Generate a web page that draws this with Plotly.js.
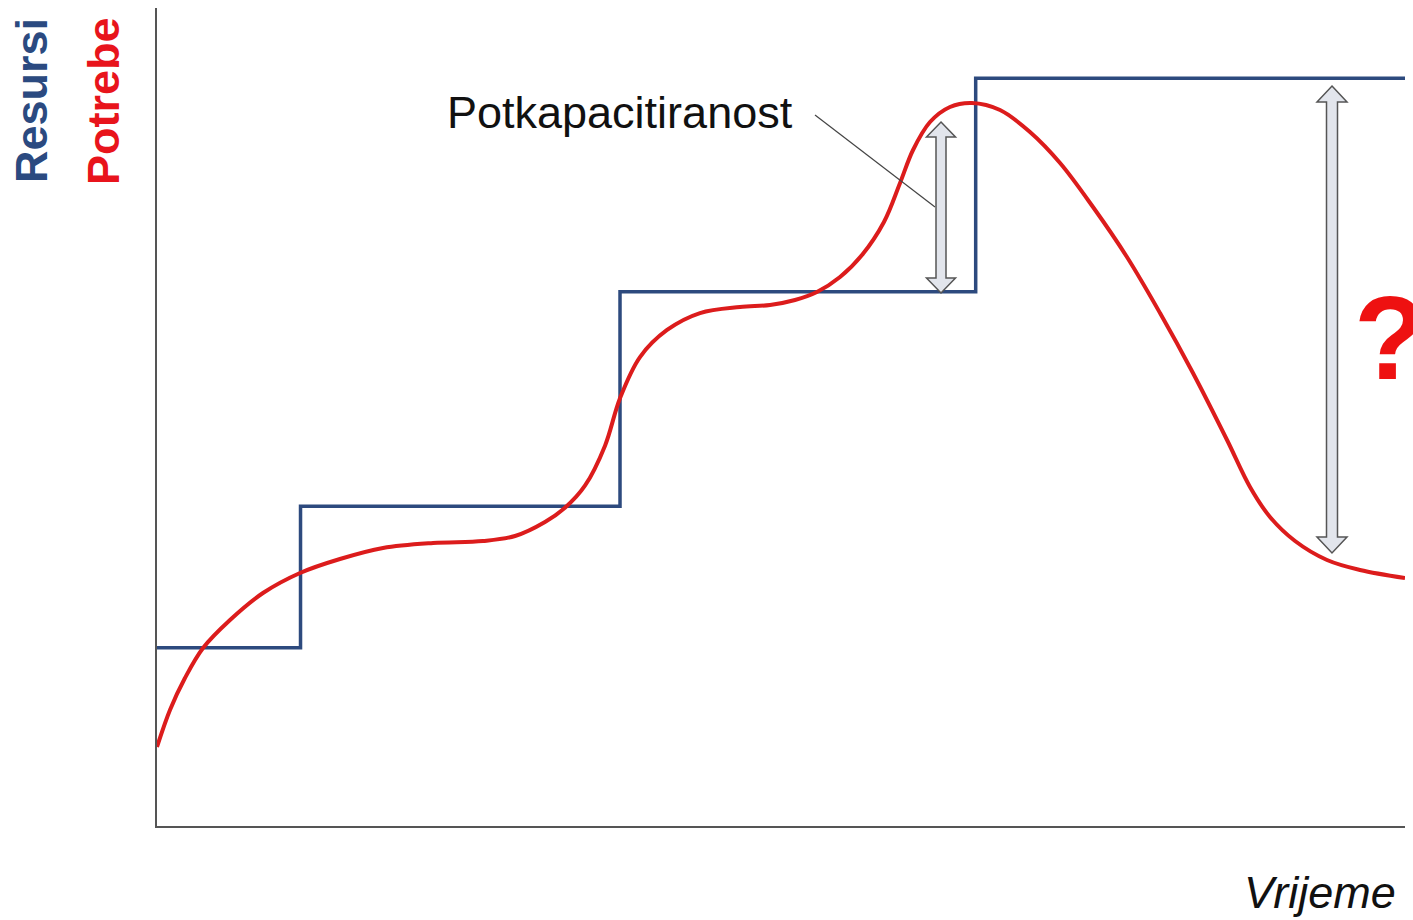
<!DOCTYPE html>
<html>
<head>
<meta charset="utf-8">
<script src="https://cdn.plot.ly/plotly-3.0.1.min.js"></script>
<style>html,body{margin:0;padding:0;background:#fff;}#chart{width:1413px;height:920px;}</style>
</head>
<body>
<div id="chart"></div>
<script>
// Resources (Resursi) – step function
var resourceTime  = [0, 11.5, 37.1, 65.6, 100];
var resourceLevel = [21.8, 39.1, 65.3, 91.4, 91.4];

// Needs (Potrebe) – smooth curve
var demandTime  = [0, 1.04, 2.24, 3.69, 5.85, 8.49, 11.46, 14.66, 18.11, 22.12, 26.12, 28.69, 31.09, 32.69, 34.29, 35.9, 37.1, 38.7, 40.87, 43.51, 46.71, 49.12, 51.12, 52.88, 54.73, 56.49, 58.25, 59.54, 60.58, 61.94, 63.54, 65.3, 67.55, 69.95, 72.36, 75.0, 77.72, 80.37, 83.01, 85.74, 87.58, 89.18, 91.19, 93.75, 96.39, 100];
var demandLevel = [9.66, 14.18, 18.09, 21.76, 25.18, 28.48, 30.93, 32.64, 33.99, 34.6, 34.84, 35.45, 37.16, 38.9, 41.6, 46.5, 52.3, 57.33, 60.64, 62.71, 63.45, 63.69, 64.3, 65.28, 67.11, 69.8, 73.84, 78.61, 82.64, 86.06, 87.9, 88.39, 87.53, 84.84, 81.05, 75.67, 69.56, 62.71, 55.38, 47.19, 41.44, 37.78, 34.84, 32.52, 31.3, 30.32];

// Labels
var yLabelResources = 'Resursi';
var yLabelNeeds = 'Potrebe';
var xLabel = 'Vrijeme';
var calloutText = 'Potkapacitiranost';
var questionText = '?';

// layout geometry
var W = 1413, H = 920, ML = 157, MR = 8, MT = 8, MB = 94;
var PW = W - ML - MR, PH = H - MT - MB;
function X(px){ return (px - ML) / PW * 100; }
function Y(py){ return (H - MB - py) / PH * 100; }
function dblArrow(cx, yTop, yBot, shaftW, headW, headH){
  var p = [
    [cx, yTop], [cx + headW/2, yTop + headH], [cx + shaftW/2, yTop + headH],
    [cx + shaftW/2, yBot - headH], [cx + headW/2, yBot - headH], [cx, yBot],
    [cx - headW/2, yBot - headH], [cx - shaftW/2, yBot - headH],
    [cx - shaftW/2, yTop + headH], [cx - headW/2, yTop + headH]
  ];
  return 'M' + p.map(function(q){ return X(q[0]).toFixed(3) + ',' + Y(q[1]).toFixed(3); }).join(' L') + ' Z';
}

var traces = [
  {x: resourceTime, y: resourceLevel, mode: 'lines', line: {shape: 'hv', color: '#2d4a7e', width: 3.5}, hoverinfo: 'skip'},
  {x: demandTime, y: demandLevel, mode: 'lines', line: {shape: 'spline', smoothing: 1, color: '#dc1c1c', width: 4}, hoverinfo: 'skip'}
];

var arrowStyle = {fillcolor: '#e2e5ec', line: {color: '#555555', width: 1.5}};
var layout = {
  width: W, height: H,
  margin: {l: ML, r: MR, t: MT, b: MB, pad: 0},
  paper_bgcolor: '#ffffff', plot_bgcolor: '#ffffff',
  showlegend: false,
  xaxis: {range: [0, 100], showgrid: false, zeroline: false, showticklabels: false, ticks: '', showline: true, linecolor: '#555555', linewidth: 2, fixedrange: true},
  yaxis: {range: [0, 100], showgrid: false, zeroline: false, showticklabels: false, ticks: '', showline: true, linecolor: '#555555', linewidth: 2, fixedrange: true},
  shapes: [
    {type: 'line', xref: 'x', yref: 'y', x0: X(815), y0: Y(115), x1: X(935), y1: Y(207), line: {color: '#444444', width: 1.2}},
    Object.assign({type: 'path', xref: 'x', yref: 'y', path: dblArrow(941, 122, 293, 10, 29, 15)}, arrowStyle),
    Object.assign({type: 'path', xref: 'x', yref: 'y', path: dblArrow(1332, 86, 553, 11, 30, 16)}, arrowStyle)
  ],
  annotations: [
    {xref: 'paper', yref: 'paper', x: X(32)/100, y: Y(100)/100, xanchor: 'center', yanchor: 'middle', textangle: -90, showarrow: false,
     text: '<b>' + yLabelResources + '</b>', font: {family: 'Liberation Sans, Arial, sans-serif', size: 45, color: '#2b4a80'}},
    {xref: 'paper', yref: 'paper', x: X(103)/100, y: Y(101)/100, xanchor: 'center', yanchor: 'middle', textangle: -90, showarrow: false,
     text: '<b>' + yLabelNeeds + '</b>', font: {family: 'Liberation Sans, Arial, sans-serif', size: 45, color: '#e8141c'}},
    {xref: 'paper', yref: 'paper', x: X(1398)/100, y: Y(893)/100, xanchor: 'right', yanchor: 'middle', showarrow: false,
     text: '<i>' + xLabel + '</i>', font: {family: 'Liberation Sans, Arial, sans-serif', size: 45, color: '#111111'}},
    {xref: 'paper', yref: 'paper', x: X(445)/100, y: Y(112)/100, xanchor: 'left', yanchor: 'middle', showarrow: false,
     text: calloutText, font: {family: 'Liberation Sans, Arial, sans-serif', size: 45, color: '#111111'}},
    {xref: 'paper', yref: 'paper', x: X(1352)/100, y: Y(338)/100, xanchor: 'left', yanchor: 'middle', showarrow: false,
     text: '<b>' + questionText + '</b>', font: {family: 'Liberation Sans, Arial, sans-serif', size: 118, color: '#ee1111'}}
  ]
};

Plotly.newPlot('chart', traces, layout, {displayModeBar: false, staticPlot: true});
</script>
</body>
</html>
